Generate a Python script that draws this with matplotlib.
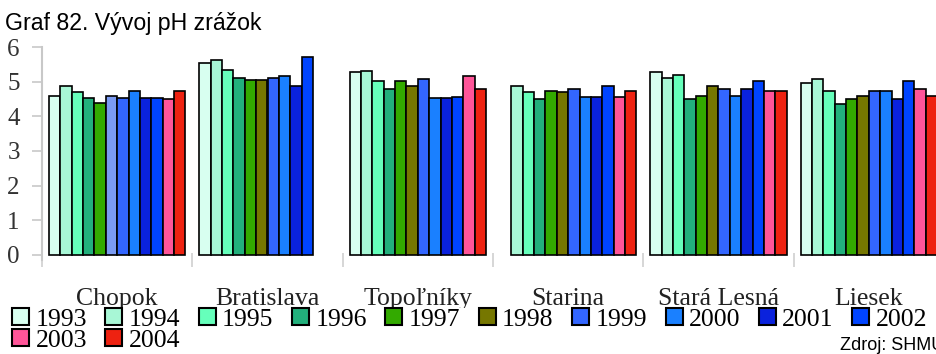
import numpy as np
import matplotlib.pyplot as plt
from matplotlib.patches import Patch

stations = ["Chopok", "Bratislava", "Topoľníky", "Starina", "Stará Lesná", "Liesek"]
years = ["1993", "1994", "1995", "1996", "1997", "1998",
         "1999", "2000", "2001", "2002", "2003", "2004"]

# pH per station, one value per year (nan = no measurement)
chopok = [4.59, 4.87, 4.70, 4.52, 4.38, 4.58, 4.52, 4.72, 4.52, 4.52, 4.49, 4.72]
bratislava = [5.54, 5.62, 5.33, 5.10, 5.04, 5.04, 5.10, 5.17, 4.88, 5.70, np.nan, np.nan]
topolniky = [5.27, 5.31, 5.02, 4.80, 5.02, 4.88, 5.09, 4.52, 4.52, 4.57, 5.17, 4.80]
starina = [np.nan, 4.88, 4.69, 4.51, 4.73, 4.70, 4.80, 4.57, 4.57, 4.88, 4.57, 4.73]
stara_lesna = [5.28, 5.12, 5.19, 4.51, 4.59, 4.88, 4.80, 4.59, 4.80, 5.02, 4.73, 4.73]
liesek = [4.96, 5.09, 4.73, 4.35, 4.51, 4.59, 4.73, 4.73, 4.51, 5.02, 4.80, 4.59]

ph = np.array([chopok, bratislava, topolniky, starina, stara_lesna, liesek])

colors = ["#d8fff0", "#a8f7d6", "#66ffbb", "#22b07c", "#33aa00", "#767700",
          "#3366ff", "#1a80ff", "#0a22dd", "#0044ff", "#ff5599", "#ee2211"]
# odd colour used for one bar in the original output
special = {(0, 5): "#7b9bf2"}

fig = plt.figure(figsize=(9.37, 3.54), dpi=100)
ax = fig.add_axes([42 / 937, 94 / 354, 902 / 937, 213 / 354])

x = np.arange(len(stations))
group = 0.907
w = group / len(years)
for j, yr in enumerate(years):
    pos = x - group / 2 + w * (j + 0.5)
    bars = ax.bar(pos, ph[:, j], width=w, color=colors[j], edgecolor="black",
                  linewidth=1.2, label=yr)
    for (i, jj), c in special.items():
        if jj == j:
            bars[i].set_facecolor(c)

ax.set_xlim(-0.5, len(stations) - 0.5)
ax.set_ylim(-0.145, 6)
ax.set_yticks(range(0, 7))
ax.tick_params(axis="y", length=7, width=1.2, color="#c8c8c8", pad=9,
               labelsize=18, labelcolor="#333333")
for lab in ax.get_yticklabels():
    lab.set_family("Liberation Serif")

ax.set_xticks(np.arange(len(stations) + 1) - 0.5)
ax.set_xticklabels([])
ax.tick_params(axis="x", which="major", direction="inout", length=10,
               width=1.2, color="#d0d0d0")
ax.set_xticks(x, minor=True)
ax.set_xticklabels(stations, minor=True, fontsize=18.5,
                   family="Liberation Serif", color="#222222")
ax.tick_params(axis="x", which="minor", length=0, pad=20)

for s in ["top", "right", "bottom"]:
    ax.spines[s].set_visible(False)
ax.spines["left"].set_color("#c8c8c8")
ax.spines["left"].set_linewidth(1.5)

# legend rows: 1993..2002 on the first line, 2003 and 2004 below
handles = [Patch(facecolor=c, edgecolor="black", linewidth=1.5) for c in colors]
order = [0, 10, 1, 11, 2, 3, 4, 5, 6, 7, 8, 9]
leg = fig.legend([handles[k] for k in order], [years[k] for k in order],
                 ncol=10, loc="upper left", bbox_to_anchor=(12 / 937, 1 - 308 / 354),
                 frameon=True, facecolor="white", edgecolor="none", framealpha=1,
                 fancybox=False, borderpad=0, borderaxespad=0,
                 prop={"family": "Liberation Serif", "size": 18.5},
                 handlelength=0.66, handleheight=0.66, handletextpad=0.25,
                 columnspacing=0.72, labelspacing=-0.07)

fig.text(5 / 937, 1 - 30 / 354, "Graf 82. Vývoj pH zrážok", fontsize=16.7,
         family="Liberation Sans", color="black", va="baseline")
fig.text(840 / 937, 1 - 350 / 354, "Zdroj: SHMÚ", fontsize=13, zorder=10,
         family="Liberation Sans", color="black", va="baseline")

fig.savefig("out.png", dpi=100)
